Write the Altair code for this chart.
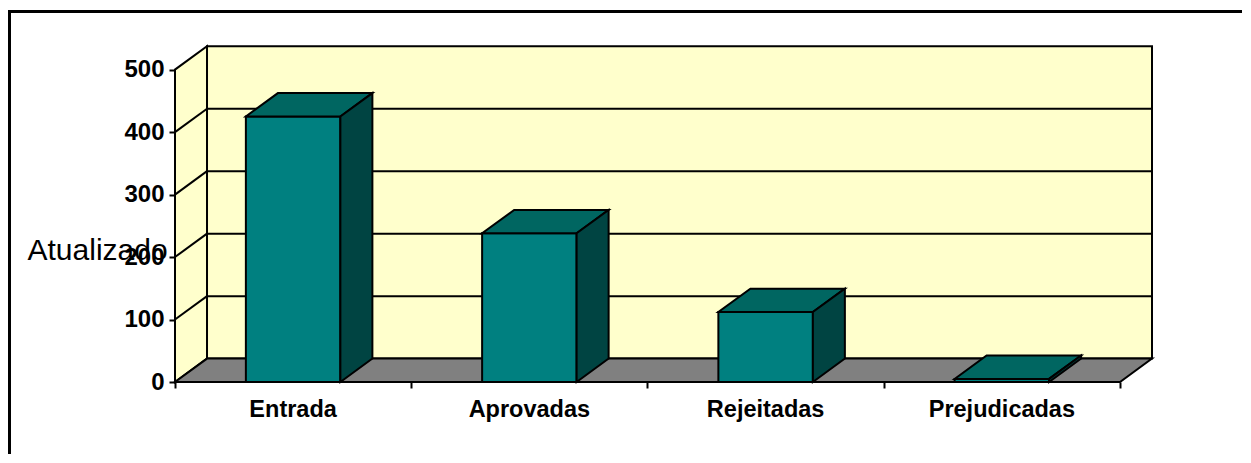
import altair as alt
import pandas as pd

# ---- data ----
categories = ["Entrada", "Aprovadas", "Rejeitadas", "Prejudicadas"]
values = [425, 238, 112, 5]
y_ticks = [0, 100, 200, 300, 400, 500]
y_title = "Atualizado"

# ---- 3D projection / layout parameters ----
N = len(categories)
DX = 0.1355      # depth offset in x units
DY = 37.45       # depth offset in y units
YTOP = 500
BAR_W = 0.40
W, H = 977, 336
XMAX = N + DX
YMAX = 537.8

FONT = "Liberation Sans"


def flat_face(fid, kind, x0, x1, y):
    return [
        dict(fid=fid, kind=kind, x=x0, y=y, y2=y),
        dict(fid=fid, kind=kind, x=x0 + DX, y=y, y2=y + DY),
        dict(fid=fid, kind=kind, x=x1, y=y, y2=y + DY),
        dict(fid=fid, kind=kind, x=x1 + DX, y=y + DY, y2=y + DY),
    ]


def side_face(fid, kind, xs, y0, y1):
    return [
        dict(fid=fid, kind=kind, x=xs, y=y0, y2=y1),
        dict(fid=fid, kind=kind, x=xs + DX, y=y0 + DY, y2=y1 + DY),
    ]


# walls / floor
wall_rows = side_face("leftwall", "wall", 0, 0, YTOP) + flat_face("floor", "floor", 0, N, 0)
walls = pd.DataFrame(wall_rows)
backwall = pd.DataFrame([dict(x=DX, x2=N + DX, y=DY, y2=YTOP + DY)])

# gridlines
grid_rows = []
for k in y_ticks[1:-1]:
    grid_rows.append(dict(x=DX, x2=N + DX, y=k + DY, y2=k + DY))
    grid_rows.append(dict(x=0, x2=DX, y=k, y2=k + DY))
grid = pd.DataFrame(grid_rows)

# bars
front_rows, face_rows, label_rows = [], [], []
for i, (c, v) in enumerate(zip(categories, values)):
    x0 = i + 0.5 - BAR_W / 2
    x1 = i + 0.5 + BAR_W / 2
    front_rows.append(dict(cat=c, x=x0, x2=x1, y=0, y2=v))
    face_rows += flat_face(c + "_top", "top", x0, x1, v)
    face_rows += side_face(c + "_side", "side", x1, 0, v)
    label_rows.append(dict(cat=c, x=i + 0.5))
fronts = pd.DataFrame(front_rows)
faces = pd.DataFrame(face_rows)
labels = pd.DataFrame(label_rows)

kinds = ["wall", "floor", "top", "side"]
kind_colors = ["#FFFFCC", "#808080", "#006661", "#004442"]

xscale = alt.Scale(domain=[0, XMAX], nice=False, zero=False)
yscale = alt.Scale(domain=[0, YMAX], nice=False, zero=False)
xaxis = alt.Axis(values=list(range(N + 1)), labels=False, ticks=True, tickSize=6,
                 tickWidth=2, tickColor="black", domain=False, grid=False, title=None)
yaxis = alt.Axis(values=y_ticks, labelFont=FONT, labelFontSize=24, labelFontWeight="bold",
                 labelColor="black", labelPadding=5, tickSize=6, tickWidth=2,
                 tickColor="black", domain=False, grid=False, title=y_title,
                 titleAngle=0, titleX=-148, titleY=213, titleAlign="left",
                 titleBaseline="alphabetic", titleFont=FONT, titleFontSize=30,
                 titleFontWeight="normal", titleColor="black")


def X(f="x"):
    return alt.X(f + ":Q", scale=xscale, axis=xaxis)


def Y(f="y"):
    return alt.Y(f + ":Q", scale=yscale, axis=yaxis, stack=None)


color = alt.Color("kind:N", scale=alt.Scale(domain=kinds, range=kind_colors), legend=None)

back = alt.Chart(backwall).mark_rect(fill="#FFFFCC", stroke="black", strokeWidth=2).encode(
    x=X(), x2="x2:Q", y=Y(), y2="y2:Q")

wall_layer = alt.Chart(walls).mark_area(stroke="black", strokeWidth=2, opacity=1).encode(
    x=X(), y=Y(), y2="y2:Q", detail="fid:N", color=color)

grid_layer = alt.Chart(grid).mark_rule(color="black", strokeWidth=2).encode(
    x=X(), x2="x2:Q", y=Y(), y2="y2:Q")

front_layer = alt.Chart(fronts).mark_rect(fill="#008080", stroke="black", strokeWidth=2).encode(
    x=X(), x2="x2:Q", y=Y(), y2="y2:Q")

face_layer = alt.Chart(faces).mark_area(stroke="black", strokeWidth=2, opacity=1).encode(
    x=X(), y=Y(), y2="y2:Q", detail="fid:N", color=color)

label_layer = alt.Chart(labels).mark_text(font=FONT, fontSize=23.5, fontWeight="bold",
                                           color="black", baseline="alphabetic",
                                           dy=35).encode(
    x=X(), y=alt.value(H), text="cat:N")

one = pd.DataFrame({"a": [0]})
frame_top = alt.Chart(one).mark_rule(color="black", strokeWidth=3).encode(
    x=alt.value(-167), x2=alt.value(W + 300), y=alt.value(-34.5))
frame_left = alt.Chart(one).mark_rule(color="black", strokeWidth=3).encode(
    x=alt.value(-165.5), y=alt.value(-36), y2=alt.value(H + 300))

chart = alt.layer(back, wall_layer, grid_layer, front_layer, face_layer, label_layer,
                  frame_top, frame_left).properties(
    width=W, height=H,
    autosize=alt.AutoSizeParams(type="none"),
    padding={"left": 167, "top": 38, "right": 90, "bottom": 72},
    background="white",
).configure_view(stroke=None)

chart.save("out.html", embed_options={"renderer": "svg", "actions": False})
